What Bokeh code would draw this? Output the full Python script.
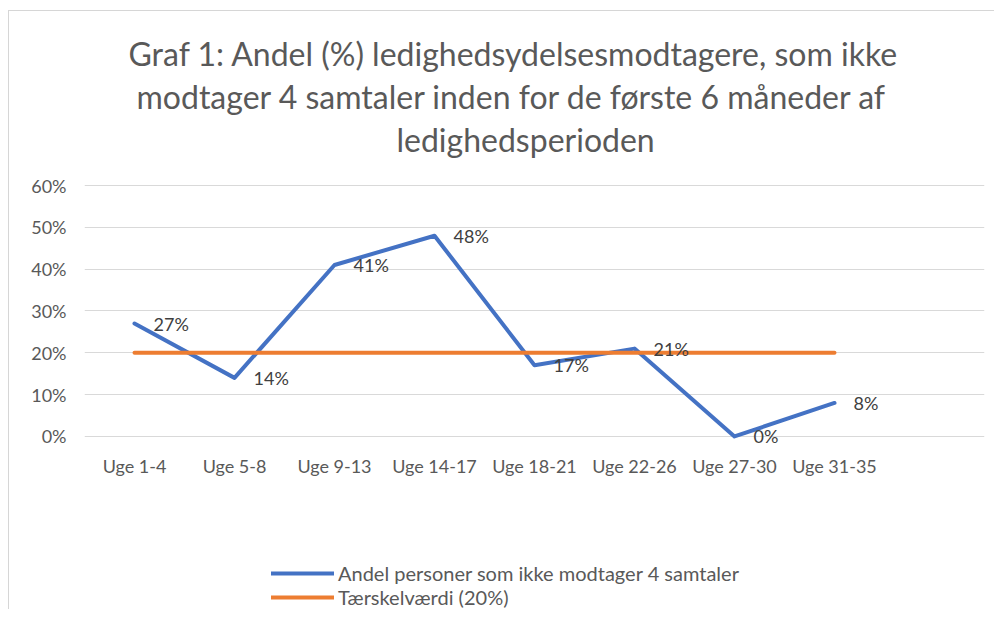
from bokeh.plotting import figure
from bokeh.models import (FactorRange, Range1d, Title, Legend, LegendItem, ColumnDataSource,
                          FixedTicker)
from bokeh.core.properties import value
from bokeh.embed import file_html
from bokeh.resources import INLINE

categories = ["Uge 1-4", "Uge 5-8", "Uge 9-13", "Uge 14-17", "Uge 18-21", "Uge 22-26", "Uge 27-30", "Uge 31-35"]
andel = [27, 14, 41, 48, 17, 21, 0, 8]
taerskel = [20, 20, 20, 20, 20, 20, 20, 20]
y_ticks = [0, 10, 20, 30, 40, 50, 60]
title_lines = ["Graf 1: Andel (%) ledighedsydelsesmodtagere, som ikke",
               "modtager 4 samtaler inden for de første 6 måneder af",
               "ledighedsperioden"]
series_names = ["Andel personer som ikke modtager 4 samtaler", "Tærskelværdi (20%)"]

FONT = "Lato"
GRAY = "#595959"

src = ColumnDataSource(dict(
    x=categories, andel=andel, taerskel=taerskel,
    lbl=[f"{v}%" for v in andel],
))

# the frame reaches down to the legend area; the category axis sits just below 0 %
p = figure(frame_width=900, frame_height=425, output_backend="svg", toolbar_location=None,
           x_range=FactorRange(*(categories + [" "]), range_padding=0),
           y_range=Range1d(-41.4, 60.25),
           min_border_left=75, min_border_right=10, min_border_top=173, min_border_bottom=0)
p.outline_line_color = None
p.background_fill_color = "white"
p.border_fill_color = "white"
p.styles = {"margin-left": "8px", "margin-top": "10px",
            "border-top": "1px solid #d6d6d6", "border-left": "1px solid #d6d6d6"}

# axes
p.yaxis.ticker = FixedTicker(ticks=y_ticks)
p.yaxis.major_label_overrides = {t: f"{t}%" for t in y_ticks}
for ax in (p.xaxis[0], p.yaxis[0]):
    ax.axis_line_color = None
    ax.major_tick_line_color = None
    ax.minor_tick_line_color = None
    ax.major_label_text_font = FONT
    ax.major_label_text_color = GRAY
p.xaxis.major_label_text_font_size = "18px"
p.yaxis.major_label_text_font_size = "18px"
p.yaxis.major_label_standoff = 12
p.xaxis.major_label_standoff = 0
p.xaxis.fixed_location = -3
p.xgrid.grid_line_color = None
p.ygrid.ticker = FixedTicker(ticks=y_ticks)
p.ygrid.grid_line_color = "#d9d9d9"
p.ygrid.grid_line_width = 1

r1 = p.line("x", "andel", source=src, line_color="#4472C4", line_width=4, line_join="round", line_cap="round")
r2 = p.line("x", "taerskel", source=src, line_color="#ED7D31", line_width=4, line_join="round", line_cap="round")

p.text("x", "andel", text="lbl", source=src, x_offset=19, text_align="left", text_baseline="middle",
       text_font=value(FONT), text_font_size="18px", text_color="#404040")

# multi-line title: p.title is outermost; added titles go inner-first
def style_title(t, fs="32px", offset=0, align="left", standoff=2):
    t.align = align
    t.text_font = FONT
    t.text_font_size = fs
    t.text_font_style = "normal"
    t.text_color = GRAY
    t.standoff = standoff
    t.offset = offset

p.title.text = title_lines[0]
style_title(p.title, offset=44)
spacer = Title(text=" ")
style_title(spacer, fs="19px", standoff=0)
p.add_layout(spacer, "above")
for line, off in ((title_lines[2], 312), (title_lines[1], 52)):
    t = Title(text=line)
    style_title(t, offset=off)
    p.add_layout(t, "above")

legend = Legend(items=[LegendItem(label=series_names[0], renderers=[r1]),
                       LegendItem(label=series_names[1], renderers=[r2])],
                location=(187, 0), orientation="vertical",
                glyph_width=63, glyph_height=20, label_standoff=4, spacing=0,
                label_text_font=FONT, label_text_font_size="20px", label_text_color=GRAY,
                border_line_color=None, background_fill_alpha=0, margin=0, padding=0)
p.add_layout(legend, "center")

open("out.html", "w").write(file_html(p, INLINE))
